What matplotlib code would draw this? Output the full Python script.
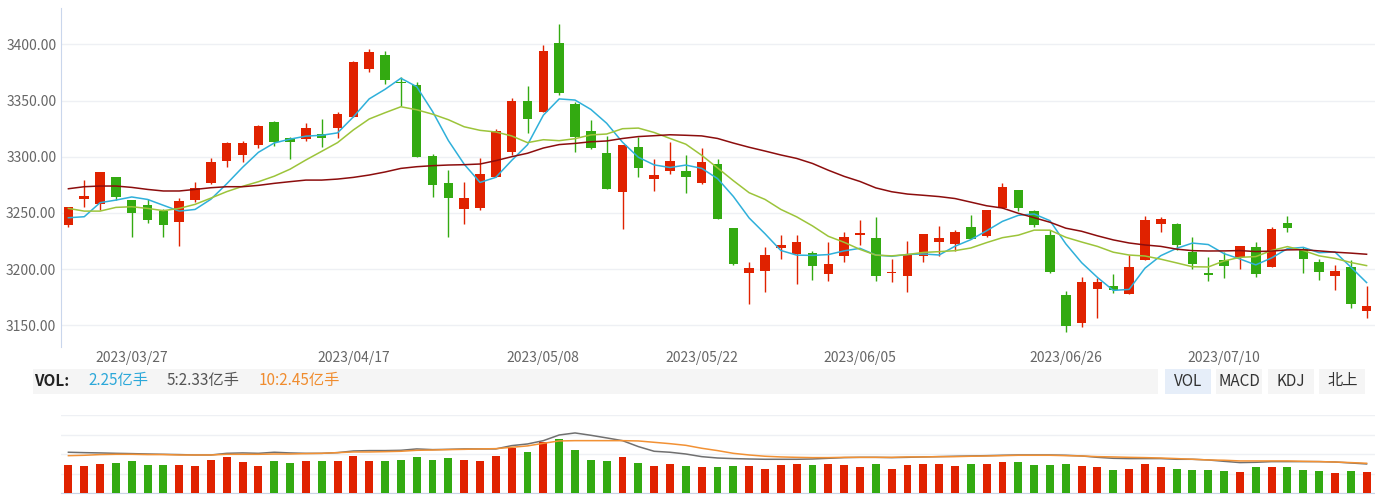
import numpy as np
import pandas as pd
import matplotlib
matplotlib.use('Agg')
import matplotlib.pyplot as plt
from matplotlib.patches import Rectangle

plt.rcParams['font.family'] = ['Noto Sans CJK SC', 'DejaVu Sans']

# trading days (A-share holidays removed)
holidays = ['2023-04-05', '2023-05-01', '2023-05-02', '2023-05-03', '2023-06-22', '2023-06-23']
dates = [d.strftime('%Y/%m/%d') for d in pd.bdate_range('2023-03-21', '2023-07-21')
         if d.strftime('%Y-%m-%d') not in holidays]
label_dates = ['2023/03/27', '2023/04/17', '2023/05/08', '2023/05/22',
               '2023/06/05', '2023/06/26', '2023/07/10']

opens = [3239.2, 3262.0, 3257.6, 3281.9, 3261.4, 3256.7, 3252.0, 3242.2, 3261.4, 3276.3,
         3295.9, 3301.5, 3310.4, 3330.9, 3316.3, 3315.4, 3319.9, 3325.2, 3335.6, 3378.3,
         3390.8, 3366.5, 3363.5, 3300.6, 3276.3, 3253.7, 3254.6, 3282.2, 3304.5, 3349.6,
         3340.1, 3401.2, 3346.6, 3322.9, 3303.3, 3268.6, 3308.9, 3280.1, 3287.3, 3287.6,
         3276.9, 3293.5, 3236.8, 3196.2, 3197.9, 3218.4, 3213.7, 3214.0, 3195.3, 3211.9,
         3230.3, 3227.9, 3196.2, 3194.1, 3211.6, 3224.4, 3222.3, 3237.7, 3229.1, 3254.6,
         3270.0, 3251.4, 3230.0, 3176.9, 3151.7, 3182.5, 3184.9, 3177.8, 3208.0, 3240.4,
         3239.8, 3214.9, 3196.2, 3208.0, 3210.4, 3219.9, 3202.1, 3240.7, 3217.8, 3206.0,
         3194.1, 3201.5, 3162.9]
closes = [3254.9, 3265.3, 3286.1, 3264.4, 3250.2, 3243.9, 3239.2, 3260.3, 3271.8, 3295.6,
          3312.5, 3312.5, 3327.0, 3313.4, 3312.8, 3325.8, 3316.3, 3337.7, 3384.6, 3392.9,
          3368.3, 3365.6, 3300.0, 3274.5, 3263.5, 3262.9, 3284.6, 3322.9, 3349.6, 3333.2,
          3394.4, 3357.0, 3317.8, 3308.0, 3271.5, 3310.1, 3290.2, 3283.7, 3296.5, 3282.2,
          3295.6, 3244.8, 3204.2, 3200.6, 3212.2, 3221.1, 3224.1, 3203.0, 3204.2, 3228.8,
          3232.4, 3194.1, 3197.4, 3212.5, 3230.9, 3227.9, 3232.9, 3226.7, 3252.2, 3272.7,
          3254.6, 3238.9, 3197.1, 3149.3, 3188.8, 3188.8, 3181.3, 3201.5, 3243.6, 3244.5,
          3221.4, 3204.8, 3195.0, 3203.0, 3220.8, 3195.3, 3235.6, 3236.2, 3208.9, 3197.1,
          3198.5, 3168.6, 3167.1]
highs = [3255.5, 3278.9, 3286.5, 3282.0, 3261.6, 3262.3, 3253.1, 3262.9, 3277.8, 3298.5,
         3312.8, 3314.3, 3328.2, 3332.1, 3317.2, 3329.7, 3333.5, 3339.5, 3385.0, 3395.5,
         3394.4, 3370.6, 3366.5, 3302.4, 3287.8, 3277.2, 3299.1, 3324.3, 3351.9, 3363.2,
         3399.4, 3418.1, 3348.7, 3332.6, 3318.4, 3310.4, 3317.2, 3297.6, 3313.1, 3301.2,
         3307.7, 3297.6, 3237.0, 3206.3, 3219.9, 3230.0, 3230.0, 3216.3, 3224.1, 3232.9,
         3243.6, 3246.6, 3208.9, 3225.3, 3231.2, 3238.6, 3235.0, 3247.8, 3252.5, 3276.3,
         3270.3, 3252.5, 3234.7, 3180.7, 3193.2, 3191.7, 3195.6, 3212.5, 3247.2, 3246.6,
         3241.0, 3228.8, 3211.0, 3214.9, 3221.0, 3224.1, 3237.7, 3247.5, 3219.9, 3208.9,
         3203.3, 3208.0, 3184.9]
lows = [3237.1, 3255.5, 3252.5, 3261.4, 3228.8, 3241.3, 3228.8, 3220.5, 3259.4, 3276.0,
        3291.1, 3295.6, 3307.4, 3309.5, 3298.2, 3314.3, 3308.9, 3316.3, 3335.2, 3375.1,
        3364.7, 3345.1, 3299.8, 3264.4, 3228.8, 3240.1, 3252.5, 3281.9, 3301.5, 3320.8,
        3339.8, 3354.9, 3304.5, 3306.5, 3271.2, 3235.3, 3282.2, 3269.5, 3284.3, 3267.4,
        3276.0, 3244.5, 3204.0, 3168.6, 3179.3, 3208.6, 3186.4, 3190.2, 3189.3, 3206.0,
        3221.1, 3189.3, 3188.2, 3179.8, 3206.0, 3211.6, 3216.0, 3226.4, 3228.8, 3254.3,
        3251.6, 3237.4, 3196.8, 3144.2, 3148.1, 3156.7, 3178.9, 3177.5, 3207.7, 3233.3,
        3216.9, 3200.0, 3189.3, 3192.3, 3200.0, 3193.2, 3201.8, 3233.3, 3196.2, 3190.2,
        3181.3, 3165.6, 3156.7]

# moving-average values before enough closes are on screen
ma5_head = [3245.7, 3246.6, 3259.1, 3261.4]
ma10_head = [3254.0, 3251.6, 3251.6, 3254.9, 3255.5, 3254.0, 3252.0, 3254.0, 3257.6]
ma30_head = [3271.5, 3273.3, 3273.9, 3273.9, 3272.7, 3270.9, 3269.5, 3269.5, 3270.9, 3272.4,
             3273.3, 3273.3, 3274.5, 3276.3, 3277.8, 3279.2, 3279.2, 3280.1, 3281.6, 3283.7,
             3286.4, 3289.6, 3291.1, 3292.0, 3292.6, 3292.9, 3293.5, 3296.5, 3300.0]

# volume, 亿手
volume = [2.87, 2.77, 3.01, 3.11, 3.32, 2.87, 2.87, 2.87, 2.77, 3.42,
          3.76, 3.21, 2.77, 3.32, 3.11, 3.32, 3.32, 3.32, 3.86, 3.32,
          3.32, 3.42, 3.76, 3.42, 3.66, 3.42, 3.32, 3.86, 4.68, 4.21,
          5.23, 5.57, 4.44, 3.42, 3.32, 3.76, 3.11, 2.77, 3.01, 2.77,
          2.67, 2.67, 2.77, 2.77, 2.53, 2.87, 3.01, 2.87, 3.01, 2.87,
          2.67, 3.01, 2.53, 2.87, 3.01, 3.01, 2.77, 3.01, 3.01, 3.21,
          3.21, 2.87, 2.87, 3.01, 2.77, 2.67, 2.43, 2.53, 3.01, 2.67,
          2.53, 2.43, 2.43, 2.32, 2.22, 2.67, 2.67, 2.67, 2.43, 2.32,
          2.09, 2.32, 2.22]
vol_ma5 = [4.21, 4.17, 4.14, 4.10, 4.07, 4.03, 4.00, 3.97, 3.93, 3.93,
           4.10, 4.14, 4.10, 4.21, 4.14, 4.10, 4.10, 4.17, 4.34, 4.38,
           4.38, 4.41, 4.55, 4.48, 4.51, 4.55, 4.55, 4.55, 4.89, 5.06,
           5.40, 5.98, 6.19, 5.95, 5.68, 5.40, 4.79, 4.31, 4.21, 4.03,
           3.76, 3.62, 3.56, 3.52, 3.49, 3.49, 3.49, 3.52, 3.59, 3.66,
           3.69, 3.69, 3.66, 3.69, 3.73, 3.76, 3.80, 3.83, 3.86, 3.90,
           3.93, 3.93, 3.93, 3.90, 3.83, 3.69, 3.59, 3.56, 3.56, 3.56,
           3.49, 3.49, 3.42, 3.28, 3.15, 3.18, 3.25, 3.25, 3.25, 3.25,
           3.21, 3.11, 3.01]
vol_ma10 = [3.86, 3.90, 3.97, 4.00, 4.00, 3.97, 3.97, 3.93, 3.93, 3.93,
            4.00, 4.00, 4.00, 4.03, 4.03, 4.07, 4.10, 4.17, 4.24, 4.24,
            4.27, 4.31, 4.41, 4.44, 4.48, 4.51, 4.55, 4.58, 4.72, 4.86,
            5.13, 5.37, 5.40, 5.40, 5.40, 5.40, 5.37, 5.23, 5.09, 4.92,
            4.62, 4.38, 4.10, 3.93, 3.80, 3.73, 3.69, 3.66, 3.66, 3.69,
            3.69, 3.69, 3.69, 3.73, 3.73, 3.76, 3.76, 3.80, 3.83, 3.86,
            3.90, 3.90, 3.90, 3.86, 3.83, 3.76, 3.73, 3.69, 3.66, 3.62,
            3.56, 3.49, 3.42, 3.39, 3.32, 3.32, 3.32, 3.32, 3.28, 3.25,
            3.21, 3.15, 3.08]

# legend values shown in the VOL header
vol_header = {'now': 2.25, 'ma5': 2.33, 'ma10': 2.45}
tabs = ['VOL', 'MACD', 'KDJ', '北上']

RED, GREEN = '#e02200', '#33aa11'
GRID = '#eef0f4'

close_s = pd.Series(closes)
ma5 = close_s.rolling(5).mean().values
ma5[:len(ma5_head)] = ma5_head
ma10 = close_s.rolling(10).mean().values
ma10[:len(ma10_head)] = ma10_head
ma30 = close_s.rolling(30).mean().values
ma30[:len(ma30_head)] = ma30_head

W, H = 1375, 495
fig = plt.figure(figsize=(W / 100, H / 100), dpi=100)


def rect(l, t, r, b):
    return [l / W, 1 - b / H, (r - l) / W, (b - t) / H]


x = np.arange(len(dates))
o = np.array(opens)
c = np.array(closes)
colors = np.where(c >= o, RED, GREEN)

# ---------------- price panel ----------------
ax = fig.add_axes(rect(60.5, 8, 1374.5, 347))
ax.vlines(x, lows, highs, colors=colors, linewidth=1, zorder=2)
ax.bar(x, np.maximum(np.abs(c - o), 0.4), bottom=np.minimum(o, c), width=0.6,
       color=colors, linewidth=0, zorder=3)
ax.plot(x, ma5, color='#2fb0da', lw=1.1, zorder=4)
ax.plot(x, ma10, color='#9cc43a', lw=1.1, zorder=4)
ax.plot(x, ma30, color='#8c0d0d', lw=1.1, zorder=4)

ax.set_xlim(-0.5, len(dates) - 0.5)
ax.set_ylim(3130.7, 3432.3)
ax.set_yticks(np.arange(3150, 3401, 50))
ax.set_yticklabels([f'{v:.2f}' for v in np.arange(3150, 3401, 50)])
ax.set_xticks([dates.index(d) for d in label_dates])
ax.set_xticklabels(label_dates)
ax.tick_params(length=0, labelsize=10, labelcolor='#666666')
ax.tick_params(axis='y', pad=3)
ax.tick_params(axis='x', pad=3)
ax.grid(axis='y', color=GRID, lw=1)
ax.set_axisbelow(True)
for s in ['top', 'right', 'bottom']:
    ax.spines[s].set_visible(False)
ax.spines['left'].set_color('#c9d6ec')

# ---------------- volume panel ----------------
av = fig.add_axes(rect(60.5, 415.3, 1374.5, 493.3))
av.bar(x, volume, width=0.5, color=colors, linewidth=0, zorder=3)
av.plot(x, vol_ma5, color='#707070', lw=1.1, zorder=4)
av.plot(x, vol_ma10, color='#f29134', lw=1.1, zorder=4)
av.set_xlim(-0.5, len(dates) - 0.5)
av.set_ylim(0, 8)
av.set_yticks([0, 2, 4, 6, 8])
av.set_xticks([])
av.tick_params(length=0, labelleft=False)
av.grid(axis='y', color=GRID, lw=1)
av.set_axisbelow(True)
for s in ['top', 'right', 'left']:
    av.spines[s].set_visible(False)
av.spines['bottom'].set_color('#c9d3e6')

# ---------------- indicator header ----------------
ov = fig.add_axes([0, 0, 1, 1])
ov.set_xlim(0, W)
ov.set_ylim(H, 0)
ov.axis('off')
ov.set_zorder(-1)
ov.add_patch(Rectangle((33.5, 368.5), 1125, 25.2, color='#f5f5f5', lw=0))
ov.text(34, 381, 'VOL:', fontsize=11, fontweight='bold', color='#222222', va='center')
ov.text(88, 381, f"{vol_header['now']:.2f}亿手", fontsize=11, color='#2ca8d9', va='center')
ov.text(167, 381, f"5:{vol_header['ma5']:.2f}亿手", fontsize=11, color='#555555', va='center')
ov.text(259, 381, f"10:{vol_header['ma10']:.2f}亿手", fontsize=11, color='#f08c2e', va='center')

for i, t in enumerate(tabs):
    left = 1165 + i * 51.5
    ov.add_patch(Rectangle((left, 368.5), 46, 25.2,
                           color='#e6eef9' if i == 0 else '#f5f5f5', lw=0))
    ov.text(left + 23, 381, t, fontsize=11, color='#333333', ha='center', va='center')

fig.savefig('out.png', dpi=100)
